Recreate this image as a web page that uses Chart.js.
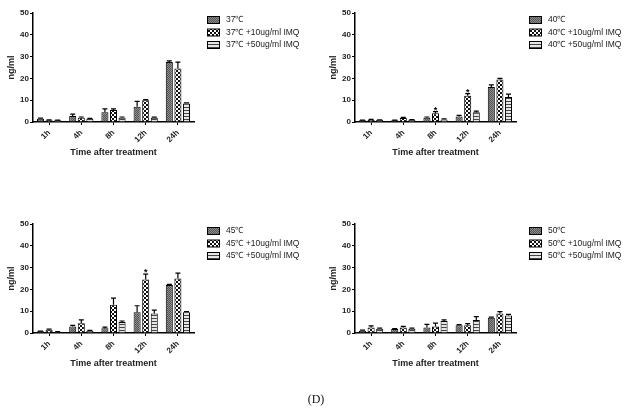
<!DOCTYPE html>
<html>
<head>
<meta charset="utf-8">
<script src="https://cdn.jsdelivr.net/npm/chart.js@4.4.1/dist/chart.umd.min.js"></script>
<style>
  body { margin: 0; background: #fff; width: 632px; height: 415px; position: relative; overflow: hidden; }
  .panel { position: absolute; width: 316px; height: 170px; }
  #caption { position: absolute; left: 0; width: 632px; top: 392px; text-align: center; will-change: transform;
             font-family: "Liberation Serif", "DejaVu Serif", serif; font-size: 12px; color: #111; }
</style>
</head>
<body>
<div class="panel" style="left:0;top:0"><canvas id="c37" width="316" height="170"></canvas></div>
<div class="panel" style="left:322px;top:0"><canvas id="c40" width="316" height="170"></canvas></div>
<div class="panel" style="left:0;top:211px"><canvas id="c45" width="316" height="170"></canvas></div>
<div class="panel" style="left:322px;top:211px"><canvas id="c50" width="316" height="170"></canvas></div>
<div id="caption">(D)</div>
<script>
const timeLabels = ['1h', '4h', '8h', '12h', '24h'];
const seriesSuffix = ['', ' +10ug/ml IMQ', ' +50ug/ml IMQ'];

// 37 C
const v37 = [1.5, 2.8, 4.5, 7.0, 27.5];
const v37imq10 = [0.8, 2.0, 5.5, 10.0, 24.5];
const v37imq50 = [0.8, 1.5, 2.0, 2.0, 8.5];
const e37 = [0.3, 0.8, 1.5, 2.5, 0.5];
const e37imq10 = [0.2, 0.3, 0.5, 0.3, 3.0];
const e37imq50 = [0.1, 0.2, 0.3, 0.2, 0.3];

// 40 C
const v40 = [0.8, 0.8, 2.0, 2.5, 16.0];
const v40imq10 = [0.9, 1.8, 4.0, 12.0, 19.5];
const v40imq50 = [0.9, 1.0, 1.2, 4.5, 11.5];
const e40 = [0.1, 0.1, 0.3, 0.5, 1.0];
const e40imq10 = [0.3, 0.3, 0.8, 1.0, 0.5];
const e40imq50 = [0.1, 0.1, 0.2, 0.5, 1.3];
const star40 = [null, [2, 3], null];

// 45 C
const v45 = [0.8, 3.0, 2.2, 9.5, 22.0];
const v45imq10 = [1.5, 4.5, 13.0, 24.5, 25.0];
const v45imq50 = [0.5, 1.0, 5.0, 9.0, 9.5];
const e45 = [0.1, 0.5, 0.5, 3.0, 0.3];
const e45imq10 = [0.3, 1.5, 3.0, 2.5, 2.5];
const e45imq50 = [0.1, 0.2, 0.5, 1.5, 0.3];
const star45 = [null, [3], null];

// 50 C
const v50 = [1.0, 1.8, 2.5, 3.5, 7.0];
const v50imq10 = [2.5, 2.5, 3.0, 3.5, 9.0];
const v50imq50 = [2.0, 2.0, 5.5, 6.0, 8.0];
const e50 = [0.3, 0.2, 1.5, 0.3, 0.3];
const e50imq10 = [0.8, 0.5, 1.5, 0.8, 0.8];
const e50imq50 = [0.2, 0.2, 0.5, 1.5, 0.5];

const yTicks = [0, 10, 20, 30, 40, 50];

function makePattern(kind) {
    const c = document.createElement('canvas');
    const x = c.getContext('2d');
    if (kind === 0) {
        c.width = 2; c.height = 2;
        x.fillStyle = '#8c8c8c'; x.fillRect(0, 0, 2, 2);
        x.fillStyle = '#555'; x.fillRect(0, 0, 1, 1); x.fillRect(1, 1, 1, 1);
    } else if (kind === 1) {
        c.width = 4; c.height = 4;
        x.fillStyle = '#111'; x.fillRect(0, 0, 4, 4);
        x.fillStyle = '#fff'; x.fillRect(0, 0, 2, 2); x.fillRect(2, 2, 2, 2);
    } else {
        c.width = 3; c.height = 3;
        x.fillStyle = '#e6e6e6'; x.fillRect(0, 0, 3, 3);
        x.fillStyle = '#444'; x.fillRect(0, 2, 3, 1);
    }
    return x.createPattern(c, 'repeat');
}

const patterns = [makePattern(0), makePattern(1), makePattern(2)];

const errorBars = {
    id: 'errorBars',
    afterDatasetsDraw(chart, args, opts) {
        const ctx = chart.ctx;
        const y = chart.scales.y;
        ctx.save();
        ctx.strokeStyle = '#000';
        ctx.lineWidth = 1.2;
        chart.data.datasets.forEach((ds, di) => {
            const meta = chart.getDatasetMeta(di);
            meta.data.forEach((bar, i) => {
                const top = y.getPixelForValue(ds.data[i] + ds.errors[i]);
                ctx.beginPath();
                ctx.moveTo(bar.x, bar.y);
                ctx.lineTo(bar.x, top);
                ctx.moveTo(bar.x - 2.5, top);
                ctx.lineTo(bar.x + 2.5, top);
                ctx.stroke();
                if (ds.stars && ds.stars.includes(i)) {
                    ctx.fillStyle = '#000';
                    ctx.font = 'bold 9px "Liberation Sans", Arial, sans-serif';
                    ctx.textAlign = 'center';
                    ctx.textBaseline = 'bottom';
                    ctx.fillText('*', bar.x, top + 3);
                }
            });
        });
        ctx.restore();
    }
};

const sideLegend = {
    id: 'sideLegend',
    afterDraw(chart) {
        const ctx = chart.ctx;
        const left = chart.chartArea.right + 13;
        ctx.save();
        ctx.font = '8.5px "Liberation Sans", Arial, sans-serif';
        ctx.textBaseline = 'middle';
        ctx.textAlign = 'left';
        chart.data.datasets.forEach((ds, i) => {
            const cy = 20 + i * 12.5;
            ctx.fillStyle = ds.backgroundColor;
            ctx.fillRect(left, cy - 3.5, 13, 7);
            ctx.strokeStyle = '#000';
            ctx.lineWidth = 1;
            ctx.strokeRect(left + 0.5, cy - 3.5, 12, 7);
            ctx.fillStyle = '#222';
            ctx.fillText(ds.label, left + 19, cy);
        });
        ctx.restore();
    }
};

function drawPanel(id, temp, values, errors, stars) {
    const datasets = values.map((vals, i) => ({
        label: temp + seriesSuffix[i],
        data: vals,
        errors: errors[i],
        stars: stars ? stars[i] : null,
        backgroundColor: patterns[i],
        borderColor: '#000',
        borderWidth: 1,
        categoryPercentage: 0.8,
        barPercentage: 0.82
    }));
    new Chart(document.getElementById(id), {
        type: 'bar',
        data: { labels: timeLabels, datasets: datasets },
        plugins: [errorBars, sideLegend],
        options: {
            responsive: false,
            animation: false,
            layout: { padding: { top: 13, right: 122, left: 6, bottom: 12 } },
            plugins: { legend: { display: false }, tooltip: { enabled: false } },
            scales: {
                x: {
                    afterFit(scale) { scale.height = 36; },
                    border: { color: '#000', width: 1.5 },
                    grid: { drawOnChartArea: false, offset: false, tickLength: 3, color: '#000' },
                    ticks: {
                        color: '#222', minRotation: 45, maxRotation: 45, padding: 3,
                        font: { family: '"Liberation Sans", Arial, sans-serif', size: 8, weight: 'bold' }
                    },
                    title: {
                        display: true, text: 'Time after treatment', color: '#222', padding: { top: 0, bottom: 0 },
                        font: { family: '"Liberation Sans", Arial, sans-serif', size: 9, weight: 'bold' }
                    }
                },
                y: {
                    min: 0, max: 50,
                    afterFit(scale) { scale.width = 27; },
                    afterBuildTicks(scale) { scale.ticks = yTicks.map(v => ({ value: v })); },
                    border: { color: '#000', width: 1.5 },
                    grid: { drawOnChartArea: false, tickLength: 3, color: '#000' },
                    ticks: {
                        color: '#222', padding: 1,
                        font: { family: '"Liberation Sans", Arial, sans-serif', size: 8, weight: 'bold' }
                    },
                    title: {
                        display: true, text: 'ng/ml', color: '#222', padding: 0,
                        font: { family: '"Liberation Sans", Arial, sans-serif', size: 9, weight: 'bold' }
                    }
                }
            }
        }
    });
}

drawPanel('c37', '37℃', [v37, v37imq10, v37imq50], [e37, e37imq10, e37imq50], null);
drawPanel('c40', '40℃', [v40, v40imq10, v40imq50], [e40, e40imq10, e40imq50], star40);
drawPanel('c45', '45℃', [v45, v45imq10, v45imq50], [e45, e45imq10, e45imq50], star45);
drawPanel('c50', '50℃', [v50, v50imq10, v50imq50], [e50, e50imq10, e50imq50], null);
</script>
</body>
</html>
